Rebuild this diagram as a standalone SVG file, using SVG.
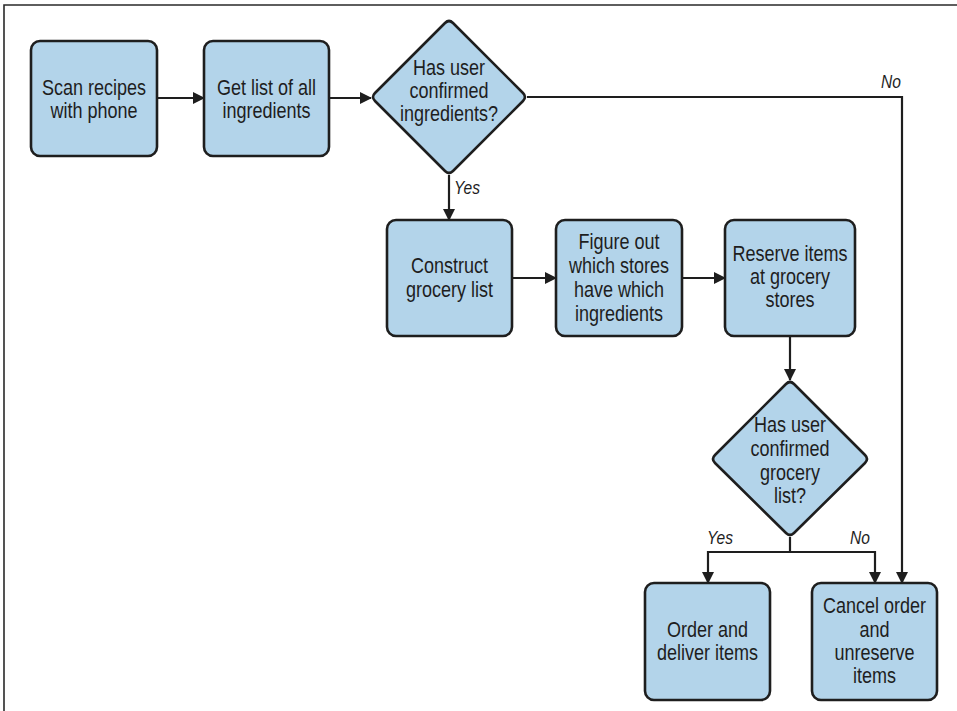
<svg xmlns="http://www.w3.org/2000/svg" width="957" height="711" viewBox="0 0 957 711">
<style>
.box{fill:#b3d4ea;stroke:#1e1e1e;stroke-width:2.6}
.t{font-family:"Liberation Sans",Arial,sans-serif;font-size:22px;fill:#1e1e1e;text-anchor:middle}
.lbl{font-family:"Liberation Sans",Arial,sans-serif;font-size:19px;font-style:italic;fill:#1e1e1e}
.c{fill:none;stroke:#1e1e1e;stroke-width:2.2}
</style>
<defs>
<marker id="ah" markerUnits="userSpaceOnUse" markerWidth="12" markerHeight="12" refX="11" refY="6" orient="auto">
<path d="M0,0 L12,6 L0,12 z" fill="#1e1e1e"/>
</marker>
</defs>
<rect width="957" height="711" fill="#ffffff"/>
<path d="M4,711 V5 H957" fill="none" stroke="#2a2a2a" stroke-width="1.6"/>

<g id="connectors">
<path class="c" d="M157,98 H204" marker-end="url(#ah)"/>
<path class="c" d="M329,98 H371" marker-end="url(#ah)"/>
<path class="c" d="M449,175 V220" marker-end="url(#ah)"/>
<path class="c" d="M527,97 H902 V583" marker-end="url(#ah)"/>
<path class="c" d="M512,278 H556" marker-end="url(#ah)"/>
<path class="c" d="M682,278 H725" marker-end="url(#ah)"/>
<path class="c" d="M790,336 V380" marker-end="url(#ah)"/>
<path class="c" d="M790,537 V552 H708 V583" marker-end="url(#ah)"/>
<path class="c" d="M790,552 H875 V583" marker-end="url(#ah)"/>
<text class="lbl" transform="translate(881,88) scale(0.82,1)">No</text>
<text class="lbl" transform="translate(454,194) scale(0.82,1)">Yes</text>
<text class="lbl" transform="translate(707,544) scale(0.82,1)">Yes</text>
<text class="lbl" transform="translate(850,544) scale(0.82,1)">No</text>
</g>

<g id="scan">
<rect class="box" x="31" y="41" width="126" height="115" rx="9"/>
<text class="t" transform="translate(94,95) scale(0.82,1)">Scan recipes</text>
<text class="t" transform="translate(94,118) scale(0.82,1)">with phone</text>
</g>
<g id="getlist">
<rect class="box" x="204" y="41" width="125" height="115" rx="9"/>
<text class="t" transform="translate(266.5,95) scale(0.82,1)">Get list of all</text>
<text class="t" transform="translate(266.5,118) scale(0.82,1)">ingredients</text>
</g>
<g id="confirm-ingredients">
<path class="box" d="M445,23 Q449,19 453,23 L523,93 Q527,97 523,101 L453,171 Q449,175 445,171 L375,101 Q371,97 375,93 Z"/>
<text class="t" transform="translate(449,75) scale(0.82,1)">Has user</text>
<text class="t" transform="translate(449,98) scale(0.82,1)">confirmed</text>
<text class="t" transform="translate(449,121) scale(0.82,1)">ingredients?</text>
</g>
<g id="construct">
<rect class="box" x="387" y="220" width="125" height="116" rx="9"/>
<text class="t" transform="translate(449.5,273) scale(0.82,1)">Construct</text>
<text class="t" transform="translate(449.5,297) scale(0.82,1)">grocery list</text>
</g>
<g id="figure">
<rect class="box" x="556" y="220" width="126" height="116" rx="9"/>
<text class="t" transform="translate(619,249) scale(0.82,1)">Figure out</text>
<text class="t" transform="translate(619,273) scale(0.82,1)">which stores</text>
<text class="t" transform="translate(619,297) scale(0.82,1)">have which</text>
<text class="t" transform="translate(619,321) scale(0.82,1)">ingredients</text>
</g>
<g id="reserve">
<rect class="box" x="725" y="220" width="130" height="116" rx="9"/>
<text class="t" transform="translate(790,261) scale(0.82,1)">Reserve items</text>
<text class="t" transform="translate(790,284) scale(0.82,1)">at grocery</text>
<text class="t" transform="translate(790,307) scale(0.82,1)">stores</text>
</g>
<g id="confirm-list">
<path class="box" d="M786,384 Q790,380 794,384 L865,455 Q869,459 865,463 L794,533 Q790,537 786,533 L715,463 Q711,459 715,455 Z"/>
<text class="t" transform="translate(790,432) scale(0.82,1)">Has user</text>
<text class="t" transform="translate(790,456) scale(0.82,1)">confirmed</text>
<text class="t" transform="translate(790,480) scale(0.82,1)">grocery</text>
<text class="t" transform="translate(790,503) scale(0.82,1)">list?</text>
</g>
<g id="order">
<rect class="box" x="645" y="583" width="125" height="117" rx="9"/>
<text class="t" transform="translate(707.5,637) scale(0.82,1)">Order and</text>
<text class="t" transform="translate(707.5,660) scale(0.82,1)">deliver items</text>
</g>
<g id="cancel">
<rect class="box" x="812" y="583" width="125" height="117" rx="9"/>
<text class="t" transform="translate(874.5,613) scale(0.82,1)">Cancel order</text>
<text class="t" transform="translate(874.5,637) scale(0.82,1)">and</text>
<text class="t" transform="translate(874.5,660) scale(0.82,1)">unreserve</text>
<text class="t" transform="translate(874.5,683) scale(0.82,1)">items</text>
</g>
</svg>
